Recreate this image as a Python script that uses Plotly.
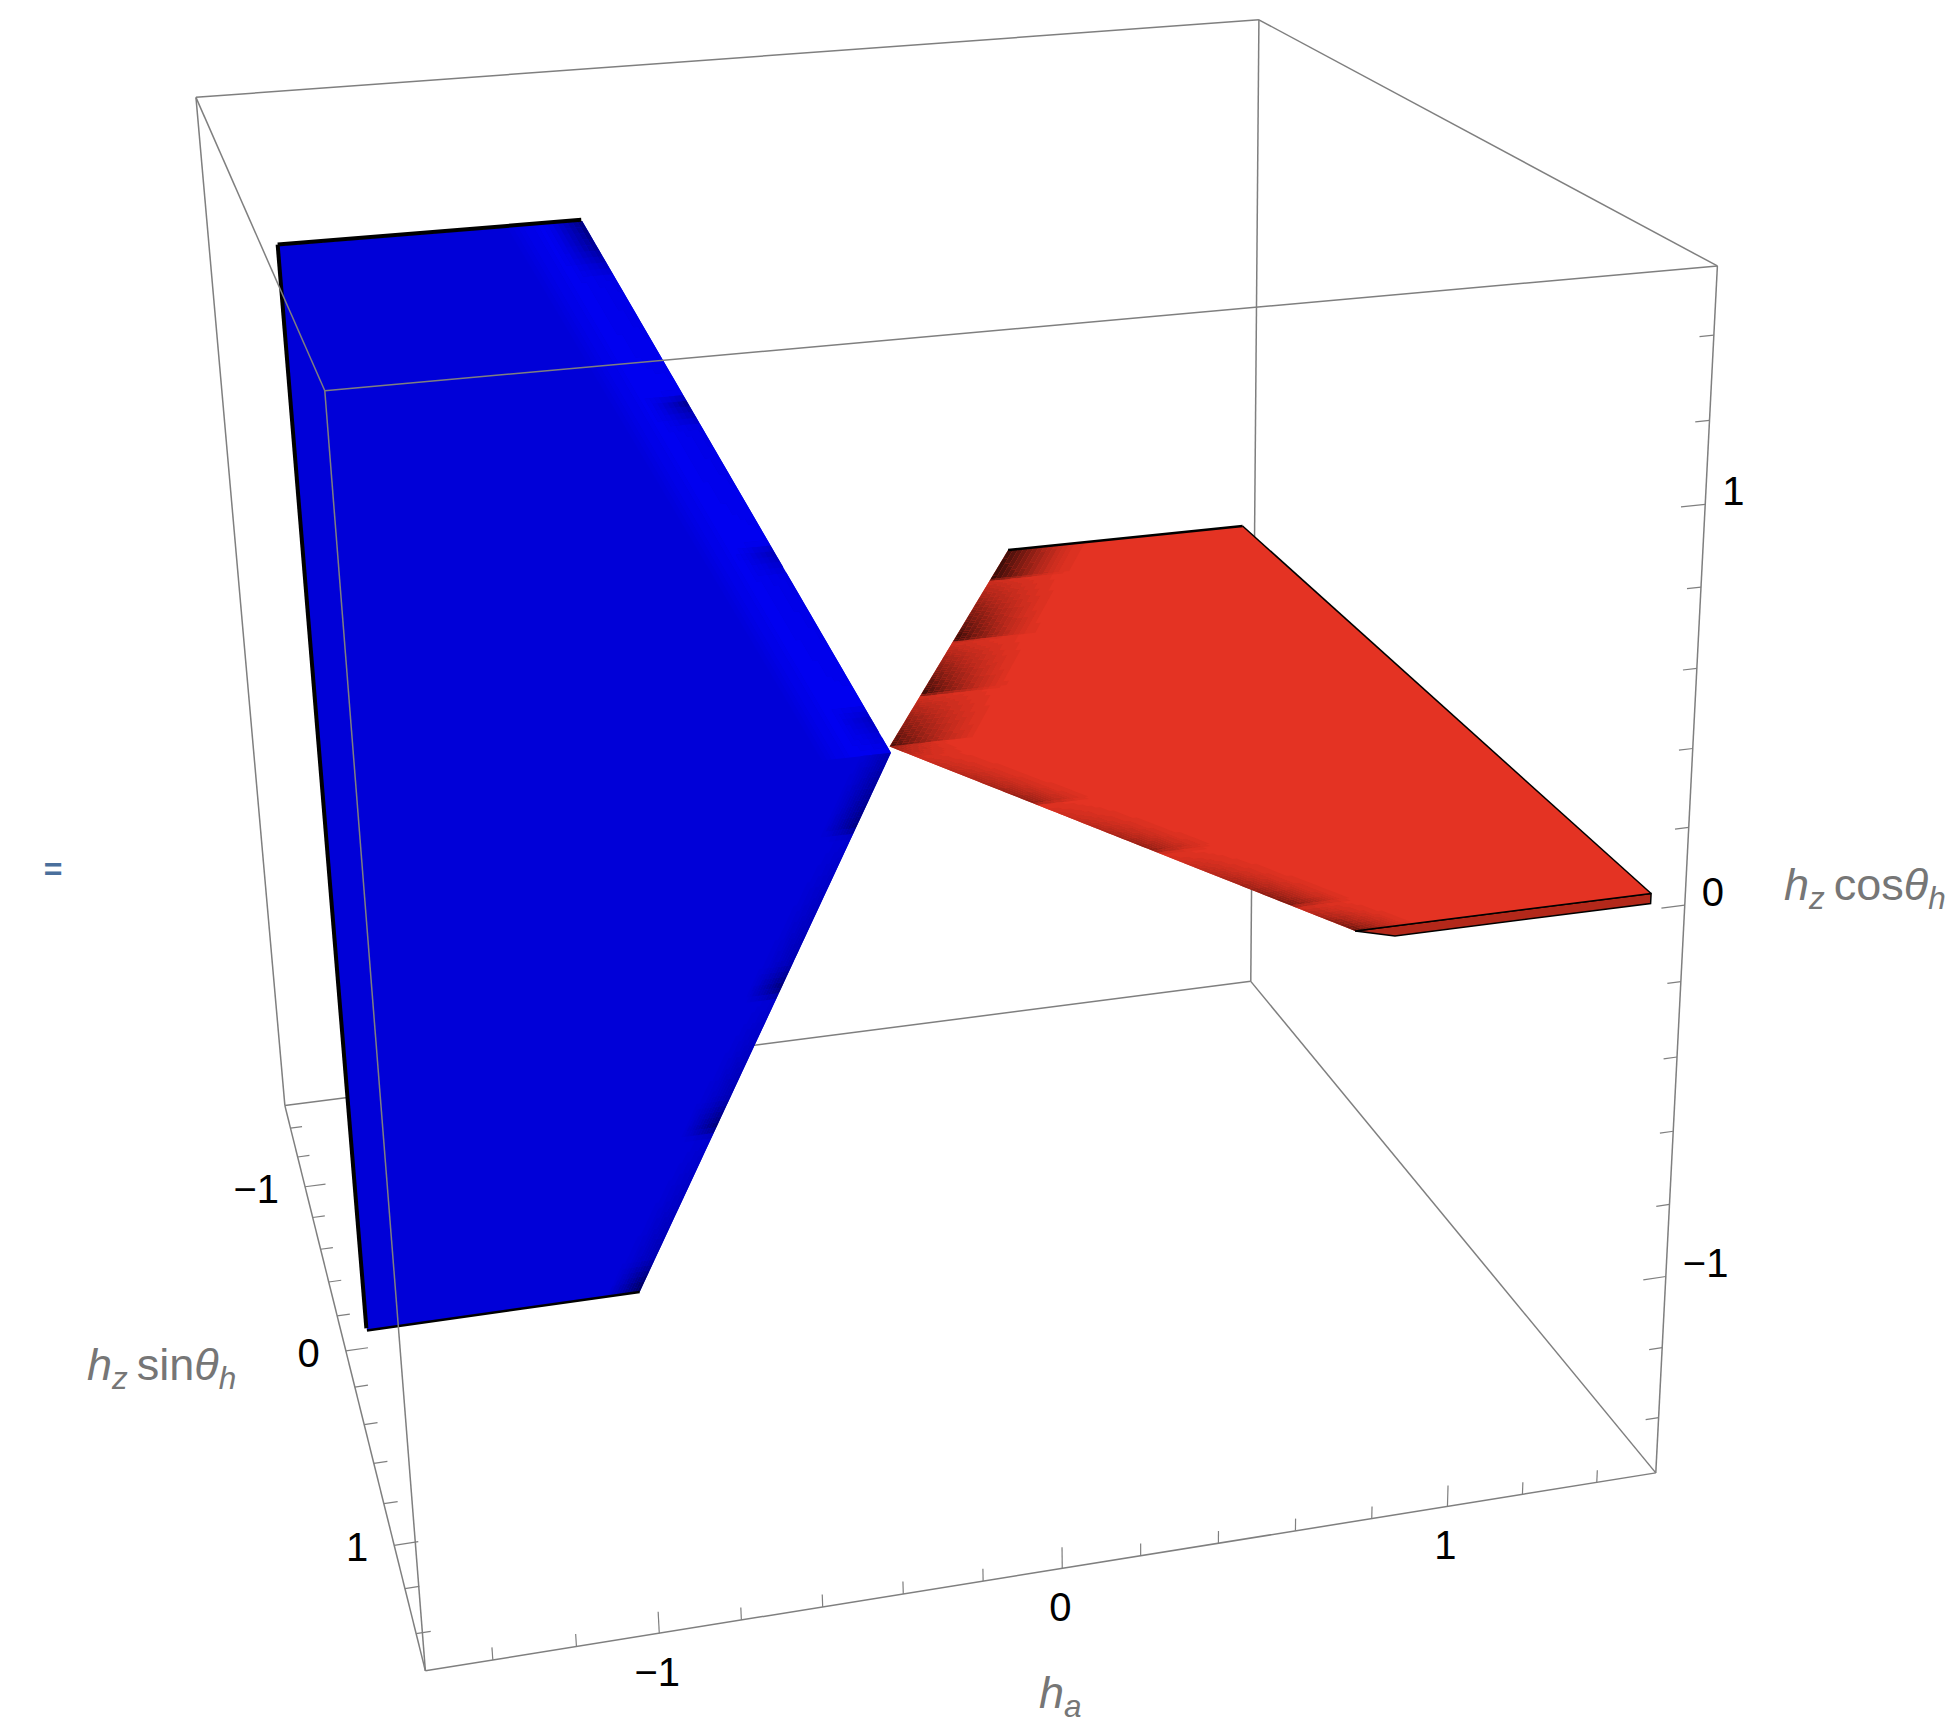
#phase diagram: blue sheet (h_a<0) and red sheet (h_a>0) meeting at the origin, 3D box drawn by hand
#plotly's gl scene has a fixed 45 deg lens and this picture has a much longer one, so the view is
#projected here with the camera matrix below and drawn on 2D axes that run in page pixels

import numpy as np
import plotly.graph_objects as go

W, H = 1959, 1732
PAGE_MARGIN = 8  #the browser's default body margin

#camera matrix, (h_a, h_z sin, h_z cos, 1) -> homogeneous page position
cam_u = np.array([383.659, 15.2652, -39.5996, 889.741])
cam_v = np.array([-25.6644, 64.9107, -376.728, 751.07])
cam_w = np.array([0.0207328, -0.0864446, -0.0339866, 1.0])

#axis limits and ticks
box_min, box_max = -1.56, 1.56
minor_ticks = [-1.4, -1.2, -0.8, -0.6, -0.4, -0.2, 0.2, 0.4, 0.6, 0.8, 1.2, 1.4]
major_ticks = [-1, 0, 1]
tick_labels = ["\u22121", "0", "1"]

#blue sheet lies in h_z sin = 0
blue_ha = [-1.5, -0.75, 0.0, -0.75, -1.5]
blue_hzcos = [1.5, 1.5, 0.0, -1.5, -1.5]

#red sheet lies in h_z cos = 0
red_ha = [0.0, 0.75, 1.5, 1.5, 0.75]
red_hzsin = [0.0, -1.5, -1.5, 1.5, 1.5]

#half thickness of the sheets
sheet = 0.013

#dark blotches along the slanted edges, read by eye: position along the edge, darkness
red_far_pos = [-1.5, -1.25, -1.23, -0.76, -0.74, -0.36, -0.34, 0.0]
red_far_dark = [0.72, 0.78, 0.12, 0.78, 0.1, 0.75, 0.1, 0.7]
red_near_pos = [0.0, 0.1, 0.5, 0.52, 0.89, 0.92, 1.31, 1.33, 1.5]
red_near_dark = [0.35, 0.1, 0.4, 0.03, 0.4, 0.03, 0.5, 0.1, 0.6]
blue_up_pos = [0.0, 0.1, 0.15, 0.52, 0.59, 0.62, 0.94, 1.01, 1.04, 1.35, 1.43, 1.5]
blue_up_dark = [0.0, 0.2, 0.0, 0.05, 0.25, 0.0, 0.05, 0.4, 0.0, 0.05, 0.4, 0.5]
blue_down_pos = [0.0, 0.2, 0.23, 0.57, 0.64, 0.68, 0.94, 1.03, 1.06, 1.4, 1.48, 1.5]
blue_down_dark = [0.2, 0.45, 0.05, 0.2, 0.5, 0.05, 0.2, 0.5, 0.05, 0.2, 0.6, 0.6]

RED = (228, 51, 35)
BLUE = (0, 0, 216)
GREY = "#7f7f7f"
LABEL_GREY = "#767676"
FONT = "Liberation Sans"


def project(x, y, z):
    x, y, z = np.broadcast_arrays(np.atleast_1d(x).astype(float), np.atleast_1d(y).astype(float), np.atleast_1d(z).astype(float))
    pts = np.stack([x, y, z, np.ones_like(x)], axis=1)
    d = pts @ cam_w
    return pts @ cam_u / d, pts @ cam_v / d


def segments(pairs):
    #list of ((x,y,z),(x,y,z)) -> one polyline with gaps
    us, vs = [], []
    for a, b in pairs:
        u, v = project([a[0], b[0]], [a[1], b[1]], [a[2], b[2]])
        us += [u[0], u[1], None]
        vs += [v[0], v[1], None]
    return us, vs


def add_lines(pairs, color=GREY, width=1.5):
    us, vs = segments(pairs)
    fig.add_trace(go.Scatter(x=us, y=vs, mode="lines", line=dict(color=color, width=width), hoverinfo="skip"))


def add_fill(x, y, z, color, line_color=None, line_width=0):
    u, v = project(x, y, z)
    fig.add_trace(go.Scatter(x=list(u) + [u[0]], y=list(v) + [v[0]], mode="lines", fill="toself", fillcolor=color,
                             line=dict(color=line_color or color, width=line_width), hoverinfo="skip"))


def add_cells(cells):
    #cells = {color: [(xs, ys, zs), ...]}, one trace for each colour
    for color, polys in cells.items():
        us, vs = [], []
        for xs, ys, zs in polys:
            u, v = project(xs, ys, zs)
            us += list(u) + [u[0], None]
            vs += list(v) + [v[0], None]
        fig.add_trace(go.Scatter(x=us, y=vs, mode="lines", fill="toself", fillcolor=color, line=dict(width=0), hoverinfo="skip"))


def red_shade(cells, pos, dark, fade):
    rows = np.linspace(min(pos), max(pos), 97)
    cols = np.linspace(0, fade, 17)
    for y0, y1 in zip(rows[:-1], rows[1:]):
        d = np.interp((y0 + y1) / 2, pos, dark)
        for w0, w1 in zip(cols[:-1], cols[1:]):
            k = d * (1 - (w0 + w1) / 2 / fade) ** 1.6
            k = round(k * 32) / 32
            if k == 0:
                continue
            c = tuple(int(v * (1 - k)) for v in RED)
            xs = [abs(y0) / 2 + w0, abs(y0) / 2 + w1, abs(y1) / 2 + w1, abs(y1) / 2 + w0]
            cells.setdefault("rgb(%d,%d,%d)" % c, []).append((xs, [y0, y0, y1, y1], [sheet] * 4))


def blue_shade(cells, pos, dark, sign, glow, fade, glow_fade):
    rows = np.linspace(min(pos), max(pos), 97)
    cols = np.linspace(0, glow_fade, 17)
    for a0, a1 in zip(rows[:-1], rows[1:]):
        d = np.interp((a0 + a1) / 2, pos, dark)
        for w0, w1 in zip(cols[:-1], cols[1:]):
            wm = (w0 + w1) / 2
            b = BLUE[2] + (255 - BLUE[2]) * glow * min(1, 2.2 * (1 - wm / glow_fade))
            b *= 1 - d * max(0, 1 - wm / fade) ** 1.3
            b = round(b / 4) * 4
            if b == BLUE[2]:
                continue
            xs = [-a0 / 2 - w0, -a0 / 2 - w1, -a1 / 2 - w1, -a1 / 2 - w0]
            zs = [sign * a0, sign * a0, sign * a1, sign * a1]
            cells.setdefault("rgb(0,0,%d)" % min(b, 255), []).append((xs, [sheet] * 4, zs))


fig = go.Figure()
lo, hi = box_min, box_max

#box edges that are behind the sheets
add_lines([
    ((lo, lo, hi), (hi, lo, hi)),
    ((lo, lo, lo), (hi, lo, lo)),
    ((lo, lo, lo), (lo, lo, hi)),
    ((hi, lo, lo), (hi, lo, hi)),
    ((hi, lo, hi), (hi, hi, hi)),
    ((hi, lo, lo), (hi, hi, lo)),
])

#blue sheet
add_fill(blue_ha, [sheet] * 5, blue_hzcos, "rgb(%d,%d,%d)" % BLUE)
cells = {}
blue_shade(cells, blue_up_pos, blue_up_dark, 1, 0.6, 0.1, 0.2)
blue_shade(cells, blue_down_pos, blue_down_dark, -1, 0.1, 0.1, 0.12)
add_cells(cells)
add_lines([((blue_ha[0], 0, blue_hzcos[0]), (blue_ha[1], 0, blue_hzcos[1]))], "black", 4)
add_lines([((blue_ha[0], 0, blue_hzcos[0]), (blue_ha[4], 0, blue_hzcos[4]))], "black", 4)
add_lines([((blue_ha[4], sheet, blue_hzcos[4]), (blue_ha[3], sheet, blue_hzcos[3]))], "black", 2.5)

#red sheet, front side first
add_fill([red_ha[4], red_ha[3], red_ha[3], red_ha[4] + 0.1], [red_hzsin[4]] * 4, [sheet, sheet, -sheet, -sheet], "#b3281a", "black", 1.5)
add_fill(red_ha, red_hzsin, [sheet] * 5, "rgb(%d,%d,%d)" % RED)
cells = {}
red_shade(cells, red_far_pos, red_far_dark, 0.26)
red_shade(cells, red_near_pos, red_near_dark, 0.17)
add_cells(cells)
add_lines([((red_ha[1], red_hzsin[1], sheet), (red_ha[2], red_hzsin[2], sheet))], "black", 2.5)
add_lines([((red_ha[2], red_hzsin[2], sheet), (red_ha[3], red_hzsin[3], sheet))], "black", 1.5)
add_lines([((red_ha[4], red_hzsin[4], sheet), (red_ha[3], red_hzsin[3], sheet))], "black", 1.5)

#box edges in front
add_lines([
    ((lo, hi, hi), (hi, hi, hi)),
    ((lo, hi, lo), (hi, hi, lo)),
    ((lo, hi, lo), (lo, hi, hi)),
    ((hi, hi, lo), (hi, hi, hi)),
    ((lo, lo, hi), (lo, hi, hi)),
    ((lo, lo, lo), (lo, hi, lo)),
])

#ticks: h_a on the front bottom edge, h_z sin on the left bottom edge, h_z cos on the front right edge
major_len, minor_len = 0.06, 0.035
tick_pairs = []
for ticks, size in ((minor_ticks, minor_len), (major_ticks, major_len)):
    for t in ticks:
        tick_pairs.append(((t, hi, lo), (t, hi, lo + size)))
        tick_pairs.append(((lo, t, lo), (lo + size, t, lo)))
        tick_pairs.append(((hi, hi, t), (hi - size, hi, t)))
add_lines(tick_pairs, GREY, 1.2)


def add_tick_text(anchors, shift, position):
    u, v = project(*zip(*anchors))
    fig.add_trace(go.Scatter(x=u + shift[0], y=v + shift[1], mode="text", text=tick_labels, textposition=position,
                             textfont=dict(family=FONT, size=40, color="black"), hoverinfo="skip"))


add_tick_text([(t, hi, lo) for t in major_ticks], (-2, 43), "middle center")
add_tick_text([(lo, t, lo) for t in major_ticks], (-26, 6), "middle left")
add_tick_text([(hi, hi, t) for t in major_ticks], (17, -9), "middle right")

#the stray equals sign at the left of the page
fig.add_trace(go.Scatter(x=[53], y=[872], mode="text", text=["<b>=</b>"], textposition="middle center",
                         textfont=dict(family=FONT, size=32, color="#4a6f9c"), hoverinfo="skip"))

#axis titles are put at their tick plus a shift in page pixels
annotations = []


def add_title(text, anchor, shift):
    u, v = project(*anchor)
    annotations.append(dict(text=text, x=float(u[0]) + shift[0], y=float(v[0]) + shift[1], xref="x", yref="y", showarrow=False,
                            font=dict(family=FONT, size=45, color=LABEL_GREY)))


add_title("<i>h</i><sub><i>a</i></sub>", (0, hi, lo), (-2, 127))
add_title("<i>h</i><sub><i>z</i></sub>\u2009sin<i>\u03b8</i><sub><i>h</i></sub>", (lo, 0, lo), (-184, 17))
add_title("<i>h</i><sub><i>z</i></sub>\u2009cos<i>\u03b8</i><sub><i>h</i></sub>", (hi, hi, 0), (180, -18))

fig.update_layout(
    width=W - 2 * PAGE_MARGIN, height=H - 2 * PAGE_MARGIN, margin=dict(l=0, r=0, t=0, b=0), showlegend=False,
    paper_bgcolor="white", plot_bgcolor="white", hovermode=False,
    xaxis=dict(visible=False, range=[PAGE_MARGIN, W - PAGE_MARGIN]),
    yaxis=dict(visible=False, range=[H - PAGE_MARGIN, PAGE_MARGIN]),
    annotations=annotations,
)
fig.write_html("out.html")
